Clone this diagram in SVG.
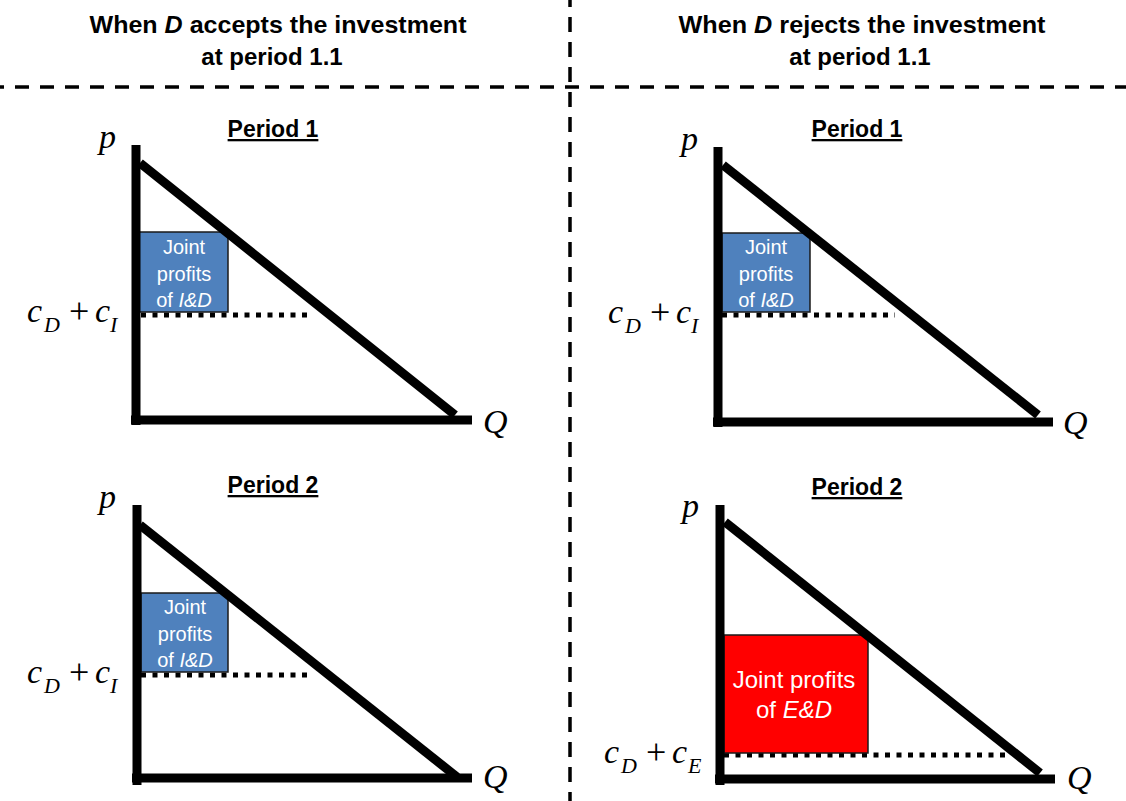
<svg xmlns="http://www.w3.org/2000/svg" width="1126" height="801" viewBox="0 0 1126 801">
<style>
.hdr{font-family:"Liberation Sans",Arial,sans-serif;font-weight:bold;font-size:24px;fill:#000;text-anchor:middle}
.per{font-family:"Liberation Sans",Arial,sans-serif;font-weight:bold;font-size:23px;fill:#000;text-anchor:middle;text-decoration:underline}
.ax{stroke:#000;stroke-width:9;fill:none}
.dem{stroke:#000;stroke-width:9;fill:none}
.dot{stroke:#000;stroke-width:5;stroke-dasharray:5 6.5;fill:none}
.sep{stroke:#000;stroke-width:3.5;fill:none}
.blue{fill:#4F81BD;stroke:#1a1a1a;stroke-width:1.5}
.red{fill:#FF0000;stroke:#1a1a1a;stroke-width:1.5}
.bt{font-family:"Liberation Sans",Arial,sans-serif;font-size:20px;fill:#fff;text-anchor:middle}
.rt{font-family:"Liberation Sans",Arial,sans-serif;font-size:24px;fill:#fff;text-anchor:middle}
.m{font-family:"Liberation Serif","Times New Roman",serif;font-style:italic;font-size:34px;fill:#000}
.ms{font-family:"Liberation Serif","Times New Roman",serif;font-style:italic;font-size:22px;fill:#000}
.mp{font-family:"Liberation Serif","Times New Roman",serif;font-size:36px;fill:#000}
</style>
<g id="separators">
<line class="sep" x1="0" y1="87" x2="1126" y2="87" stroke-dasharray="14 11" stroke-dashoffset="10"/>
<line class="sep" x1="570" y1="0" x2="570" y2="801" stroke-dasharray="15 10" stroke-dashoffset="8"/>
</g>
<g id="header-left">
<text class="hdr" x="278" y="33" textLength="377" lengthAdjust="spacingAndGlyphs">When <tspan font-style="italic">D</tspan> accepts the investment</text>
<text class="hdr" x="272" y="65">at period 1.1</text>
</g>
<g id="header-right">
<text class="hdr" x="862" y="33" textLength="367" lengthAdjust="spacingAndGlyphs">When <tspan font-style="italic">D</tspan> rejects the investment</text>
<text class="hdr" x="860" y="65">at period 1.1</text>
</g>

<g id="panel-accept-period1">
<text class="per" x="273" y="137">Period 1</text>
<line class="dot" x1="141" y1="315" x2="313" y2="315"/>
<rect class="blue" x="139" y="232" width="89" height="80"/>
<text class="bt" x="184" y="254">Joint</text>
<text class="bt" x="184" y="281">profits</text>
<text class="bt" x="184" y="307">of <tspan font-style="italic">I&amp;D</tspan></text>
<line class="ax" x1="136" y1="145" x2="136" y2="425"/>
<line class="ax" x1="131" y1="420" x2="472" y2="420"/>
<line class="dem" x1="140" y1="163" x2="455" y2="415"/>
<text class="m" x="99" y="148">p</text>
<text class="m" x="27" y="322">c</text><text class="ms" x="44" y="332">D</text>
<text class="mp" x="69" y="323">+</text>
<text class="m" x="95" y="322">c</text><text class="ms" x="110" y="332">I</text>
<text class="m" x="483" y="433">Q</text>
</g>

<g id="panel-reject-period1">
<text class="per" x="857" y="137">Period 1</text>
<line class="dot" x1="722" y1="315" x2="895" y2="315"/>
<rect class="blue" x="722" y="233" width="88" height="79"/>
<text class="bt" x="766" y="254">Joint</text>
<text class="bt" x="766" y="281">profits</text>
<text class="bt" x="766" y="307">of <tspan font-style="italic">I&amp;D</tspan></text>
<line class="ax" x1="718" y1="147" x2="718" y2="427"/>
<line class="ax" x1="713" y1="422" x2="1053" y2="422"/>
<line class="dem" x1="723" y1="165" x2="1038" y2="415"/>
<text class="m" x="681" y="150">p</text>
<text class="m" x="608" y="323">c</text><text class="ms" x="625" y="333">D</text>
<text class="mp" x="650" y="324">+</text>
<text class="m" x="676" y="323">c</text><text class="ms" x="691" y="333">I</text>
<text class="m" x="1063" y="434">Q</text>
</g>

<g id="panel-accept-period2">
<text class="per" x="273" y="493">Period 2</text>
<line class="dot" x1="141" y1="675" x2="313" y2="675"/>
<rect class="blue" x="141" y="593" width="87" height="79"/>
<text class="bt" x="185" y="614">Joint</text>
<text class="bt" x="185" y="641">profits</text>
<text class="bt" x="185" y="667">of <tspan font-style="italic">I&amp;D</tspan></text>
<line class="ax" x1="137" y1="505" x2="137" y2="785"/>
<line class="ax" x1="132" y1="778" x2="472" y2="778"/>
<line class="dem" x1="140" y1="525" x2="457" y2="777"/>
<text class="m" x="99" y="508">p</text>
<text class="m" x="27" y="683">c</text><text class="ms" x="44" y="693">D</text>
<text class="mp" x="69" y="684">+</text>
<text class="m" x="95" y="683">c</text><text class="ms" x="110" y="693">I</text>
<text class="m" x="483" y="788">Q</text>
</g>

<g id="panel-reject-period2">
<text class="per" x="857" y="495">Period 2</text>
<line class="dot" x1="724" y1="755" x2="1007" y2="755"/>
<rect class="red" x="724" y="635" width="144" height="118"/>
<text class="rt" x="794" y="688">Joint profits</text>
<text class="rt" x="794" y="718">of <tspan font-style="italic">E&amp;D</tspan></text>
<line class="ax" x1="720" y1="505" x2="720" y2="785"/>
<line class="ax" x1="715" y1="779" x2="1055" y2="779"/>
<line class="dem" x1="725" y1="522" x2="1040" y2="773"/>
<text class="m" x="682" y="517">p</text>
<text class="m" x="604" y="763">c</text><text class="ms" x="621" y="773">D</text>
<text class="mp" x="646" y="764">+</text>
<text class="m" x="672" y="763">c</text><text class="ms" x="688" y="773">E</text>
<text class="m" x="1067" y="789">Q</text>
</g>
</svg>
